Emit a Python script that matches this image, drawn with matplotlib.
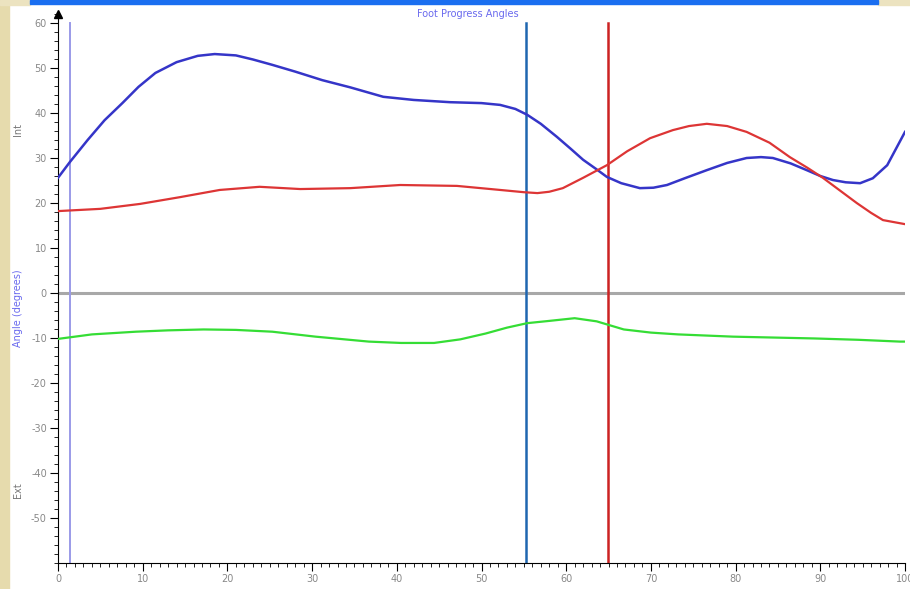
import matplotlib.pyplot as plt
from matplotlib.patches import Rectangle
from matplotlib.ticker import MultipleLocator

plt.rcParams['axes.unicode_minus'] = False

# gait cycle (%) and foot progression angles (deg)
blue_x = [0, 1.4, 3.5, 5.5, 7.6, 9.5, 11.5, 14, 16.5, 18.5, 21, 23, 25.3, 28, 31.2, 34.5,
          38.4, 42, 46.3, 50, 52.2, 54, 55.4, 57, 58.9, 60.5, 62, 63.5, 64.8, 66.5, 68.7,
          70.3, 71.9, 74, 76.6, 79, 81.3, 83, 84.4, 86.5, 88.4, 90, 91.5, 93, 94.7, 96.2, 97.9, 100]
blue_y = [25.6, 29.1, 34, 38.4, 42.2, 45.8, 48.9, 51.3, 52.7, 53.1, 52.8, 51.9, 50.7, 49.2, 47.3, 45.7,
          43.6, 42.9, 42.4, 42.2, 41.8, 40.9, 39.6, 37.6, 34.7, 32.1, 29.6, 27.6, 25.8, 24.4, 23.3,
          23.4, 24, 25.5, 27.3, 28.9, 30, 30.2, 30, 28.8, 27.3, 26, 25.1, 24.6, 24.4, 25.5, 28.4, 35.8]

red_x = [0, 5, 9.7, 14.4, 19.1, 23.8, 28.6, 34.5, 40.4, 47.1, 52.2, 55, 56.6, 58, 59.6, 62,
         64.8, 67.2, 69.9, 72.6, 74.5, 76.6, 79, 81.3, 84, 86.4, 88.5, 90.3, 92.3, 94.3, 96,
         97.4, 100]
red_y = [18.2, 18.7, 19.8, 21.3, 22.9, 23.6, 23.1, 23.3, 24, 23.8, 22.9, 22.4, 22.2, 22.5, 23.3, 25.6,
         28.4, 31.5, 34.4, 36.2, 37.1, 37.6, 37.1, 35.8, 33.4, 30.2, 27.8, 25.6, 22.8, 20, 17.8,
         16.2, 15.3]

green_x = [0, 4, 9.2, 13, 17.2, 21, 25.3, 30.4, 36.7, 40.5, 44.4, 47.5, 50.5, 53, 55.4, 58,
           61, 63.6, 65.2, 66.8, 70, 73.2, 79.7, 84.5, 89.3, 94.5, 99.4, 100]
green_y = [-10.2, -9.2, -8.6, -8.3, -8.1, -8.2, -8.6, -9.7, -10.8, -11.1, -11.1, -10.3, -9, -7.7, -6.7, -6.2,
           -5.6, -6.3, -7.2, -8.1, -8.8, -9.2, -9.7, -9.9, -10.1, -10.4, -10.8, -10.8]

# event markers
events = [1.4, 55.3, 64.9]
event_colors = ['#9a9ae8', '#1f66b0', '#cc2222']

fig = plt.figure(figsize=(9.1, 5.89), dpi=100)
fig.patch.set_facecolor('white')
fig.patches.append(Rectangle((0, 0), 9 / 910, 1, transform=fig.transFigure, color='#e6dbad', zorder=0))
fig.patches.append(Rectangle((0, 1 - 5 / 589), 30 / 910, 5 / 589, transform=fig.transFigure,
                             color='#ece3c0', zorder=0))
fig.patches.append(Rectangle((878 / 910, 1 - 5 / 589), 32 / 910, 5 / 589, transform=fig.transFigure,
                             color='#ece3c0', zorder=0))
fig.patches.append(Rectangle((30 / 910, 1 - 4 / 589), 848 / 910, 4 / 589, transform=fig.transFigure,
                             color='#1a6ef0', zorder=1))

ax = fig.add_axes([58 / 910, 26 / 589, 847 / 910, 549 / 589])
ax.set_xlim(0, 100)
ax.set_ylim(-60, 62)

ax.axhline(0, color='#a8a8a8', lw=2.2, zorder=1)
for ex, c in zip(events, event_colors):
    ax.axvline(ex, ymax=(60 + 60) / 122, color=c, lw=1.8 if ex > 2 else 1.4, zorder=2)

ax.plot(blue_x, blue_y, color='#3535c8', lw=1.8, zorder=3)
ax.plot(red_x, red_y, color='#dd3535', lw=1.6, zorder=3)
ax.plot(green_x, green_y, color='#35dd35', lw=1.6, zorder=3)

ax.spines['top'].set_visible(False)
ax.spines['right'].set_visible(False)
ax.plot([0], [62], marker='^', color='black', markersize=6, clip_on=False)

ax.xaxis.set_major_locator(MultipleLocator(10))
ax.xaxis.set_minor_locator(MultipleLocator(1))
ax.yaxis.set_minor_locator(MultipleLocator(2))
ax.set_yticks(range(-50, 61, 10))
ax.tick_params(which='major', length=6, labelsize=7, labelcolor='#888888', pad=2)
ax.tick_params(which='minor', length=3)

fig.text(468 / 910, 1 - 14 / 589, 'Foot Progress Angles', color='#6a6aee', fontsize=7, ha='center', va='center')
fig.text(18 / 910, 1 - 308 / 589, 'Angle (degrees)', color='#6a6aee', fontsize=7, rotation=90,
         ha='center', va='center')
fig.text(18 / 910, 1 - 130 / 589, 'Int', color='#777777', fontsize=7, rotation=90, ha='center', va='center')
fig.text(18 / 910, 1 - 490 / 589, 'Ext', color='#777777', fontsize=7, rotation=90, ha='center', va='center')

fig.savefig('out.png', dpi=100)
